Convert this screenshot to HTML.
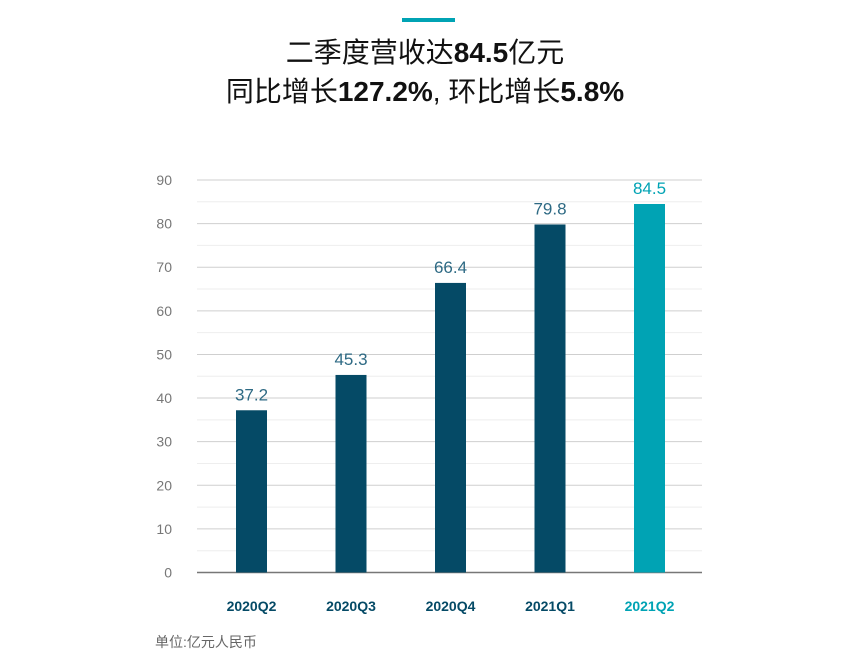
<!DOCTYPE html>
<html><head><meta charset="utf-8"><style>
body{margin:0;background:#fff;width:850px;height:655px;overflow:hidden;font-family:"Liberation Sans","Noto Sans CJK SC",sans-serif}
</style></head><body>
<svg width="850" height="655">
<rect x="402" y="18" width="53" height="4" fill="#00a3b4"/>
<text x="425" y="62" text-anchor="middle" font-size="28" fill="#111">二季度营收达<tspan font-weight="bold">84.5</tspan>亿元</text>
<text x="425" y="101" text-anchor="middle" font-size="28" fill="#111">同比增长<tspan font-weight="bold">127.2%</tspan>, 环比增长<tspan font-weight="bold">5.8%</tspan></text>
<g id="grid"></g><g id="bars"></g>
<text x="155" y="647" font-size="14" fill="#666">单位:亿元人民币</text>
</svg>
<script>
const categories=["2020Q2","2020Q3","2020Q4","2021Q1","2021Q2"];
const values=[37.2,45.3,66.4,79.8,84.5];
const labels=["37.2","45.3","66.4","79.8","84.5"];
const ticks=[0,10,20,30,40,50,60,70,80,90];
const NS="http://www.w3.org/2000/svg";
const y0=572.5,yTop=180,x0=197,x1=702;
const ys=v=>y0-(y0-yTop)*v/90;
const xs=i=>251.5+i*99.5;
const grid=document.getElementById('grid'),bars=document.getElementById('bars');
function mk(tag,attrs,parent){const e=document.createElementNS(NS,tag);for(const k in attrs)e.setAttribute(k,attrs[k]);parent.appendChild(e);return e;}
for(let v=5;v<90;v+=10){const l=mk('line',{x1:x0,x2:x1,y1:ys(v),y2:ys(v),stroke:'#eeeeee','stroke-width':1},grid);

}
ticks.forEach(v=>{const l=mk('line',{x1:x0,x2:x1,y1:ys(v),y2:ys(v),stroke:v===0?'#777':'#cfcfcf','stroke-width':v===0?1.5:1},grid);


const t=mk('text',{x:172,y:ys(v)+5,'text-anchor':'end','font-size':14,fill:'#777'},grid);t.textContent=v;

});
categories.forEach((c,i)=>{const col=i===4?'#00a3b4':'#054a66';
const r=mk('rect',{x:xs(i)-15.5,y:ys(values[i]),width:31,height:y0-ys(values[i]),fill:col},bars);


const t=mk('text',{x:xs(i),y:ys(values[i])-10,'text-anchor':'middle','font-size':17,fill:i===4?'#00a3b4':'#2e6a84'},bars);t.textContent=labels[i];


const k=mk('text',{x:xs(i),y:611,'text-anchor':'middle','font-size':14,'font-weight':'bold',fill:col},bars);k.textContent=c;

});
</script>
</body></html>
